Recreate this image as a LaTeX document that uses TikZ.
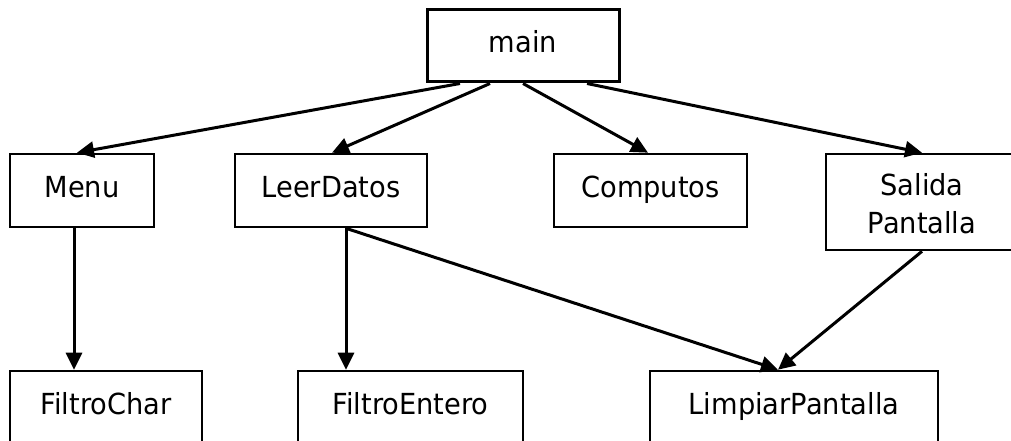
\documentclass[tikz,border=0pt]{standalone}
\usepackage{fontspec}
\setmainfont{DejaVu Sans}[FakeStretch=0.94]
\usetikzlibrary{arrows.meta}
\tikzset{
  x=1pt, y=-1pt,
  box/.style={draw=black, line width=2.6pt, fill=white, inner sep=0pt,
    font=\fontsize{29}{38}\selectfont, text height=21pt, text depth=8pt,
    align=center, minimum height=73pt},
  arr/.style={line width=3pt, -{Triangle[length=17pt,width=16pt]}}
}
\begin{document}
\begin{tikzpicture}
\useasboundingbox (0,0) rectangle (1011,441);
\clip (0,0) rectangle (1011,441);
\fill[white] (0,0) rectangle (1011,441);
\node[box, line width=3pt, minimum width=192pt, minimum height=72pt] (main) at (523,46) {main};
\node[box, minimum width=144pt] (menu) at (82,190.5) {Menu};
\node[box, minimum width=192pt] (leer) at (331,190.5) {LeerDatos};
\node[box, minimum width=193pt] (comp) at (650.5,190.5) {Computos};
\node[box, minimum width=192pt, minimum height=96pt, text height=71pt, text depth=8pt] (sal) at (922,202) {Salida\\Pantalla};
\node[box, minimum width=192pt] (fchar) at (106,407.5) {FiltroChar};
\node[box, minimum width=225pt] (fent) at (410.5,407.5) {FiltroEntero};
\node[box, minimum width=288pt] (limp) at (794,407.5) {LimpiarPantalla};

\draw[arr] ([xshift=-63pt]main.south) -- ([xshift=-5pt]menu.north);
\draw[arr] ([xshift=-33pt]main.south) -- ([xshift=1pt]leer.north);
\draw[arr] (main.south) -- ([xshift=-2.5pt]comp.north);
\draw[arr] ([xshift=64pt]main.south) -- (sal.north);

\draw[arr] ([xshift=-8pt]menu.south) -- ([xshift=-8pt]menu.south |- fchar.north);
\draw[arr] ([xshift=15pt]leer.south) -- ([xshift=15pt]leer.south |- fent.north);
\draw[arr] ([xshift=15pt]leer.south) -- ([xshift=-16pt]limp.north);
\draw[arr] (sal.south) -- ([xshift=-16pt]limp.north);
\end{tikzpicture}
\end{document}
